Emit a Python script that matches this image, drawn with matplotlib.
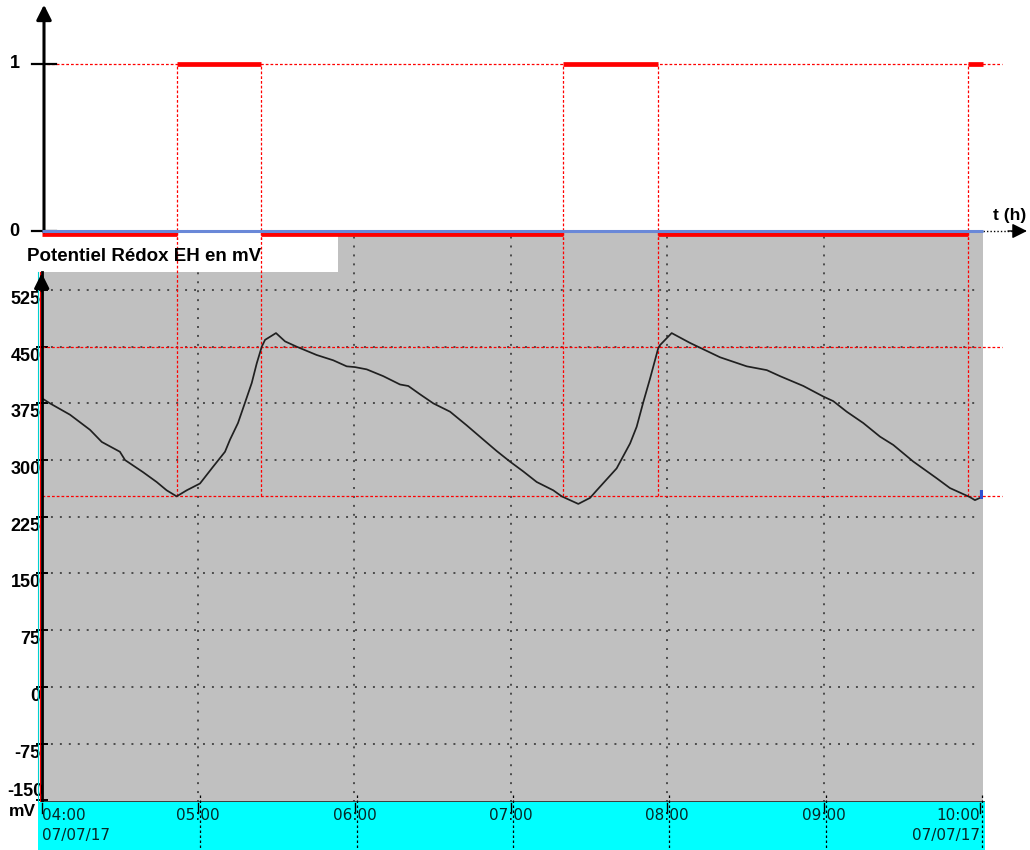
import matplotlib
matplotlib.use('Agg')
import matplotlib.pyplot as plt
from matplotlib.patches import Rectangle
import matplotlib.transforms as mtransforms

plt.rcParams['font.family'] = ['Liberation Sans', 'DejaVu Sans']

# ---------------- data ----------------
time_h = [0.000, 0.053, 0.181, 0.309, 0.384, 0.500, 0.533, 0.648, 0.735, 0.799,
          0.863, 0.927, 1.012, 1.095, 1.172, 1.204, 1.255, 1.300, 1.343, 1.375,
          1.407, 1.428, 1.498, 1.556, 1.630, 1.758, 1.864, 1.950, 2.003, 2.078,
          2.184, 2.291, 2.344, 2.419, 2.504, 2.611, 2.717, 2.824, 2.909, 2.994,
          3.079, 3.165, 3.271, 3.325, 3.431, 3.506, 3.549, 3.676, 3.762, 3.804,
          3.847, 3.890, 3.942, 3.953, 4.028, 4.145, 4.337, 4.508, 4.636, 4.721,
          4.870, 4.998, 5.061, 5.147, 5.253, 5.360, 5.445, 5.573, 5.722, 5.807,
          5.935, 5.967, 5.999]
redox_mv = [382, 375, 360, 340, 324, 311, 300, 284, 271, 260,
            252, 260, 269, 291, 311, 327, 349, 376, 402, 428,
            450, 459, 468, 457, 450, 439, 432, 424, 423, 420,
            411, 400, 398, 387, 375, 364, 346, 327, 312, 298,
            285, 271, 260, 252, 242, 250, 260, 289, 322, 344,
            377, 408, 448, 452, 468, 455, 436, 424, 419, 411,
            398, 384, 378, 364, 349, 331, 320, 298, 276, 263,
            251, 247, 250]

pump_edges = [0.0, 0.865, 1.405, 3.333, 3.942, 5.923, 6.019]
pump_state = [0, 1, 0, 1, 0, 1]

ref_high = 450
ref_low = 252

y_ticks = [-150, -75, 0, 75, 150, 225, 300, 375, 450, 525]
hour_ticks = [0, 1, 2, 3, 4, 5, 6]
hour_labels = ["04:00", "05:00", "06:00", "07:00", "08:00", "09:00", "10:00"]
date_label = "07/07/17"
title_text = "Potentiel Rédox EH en mV"

# ---------------- layout (pixel geometry) ----------------
W, H = 1030, 850
X0 = 41.7      # pixel x of 04:00
PPH = 156.4    # pixels per hour


def rect(x0, y0, x1, y1):
    return [x0 / W, 1 - y1 / H, (x1 - x0) / W, (y1 - y0) / H]


fig = plt.figure(figsize=(W / 100, H / 100), dpi=100)
fig.patch.set_facecolor('white')

RED = '#ff0000'
BLUE = '#6a88d8'
GRAY = '#c0c0c0'
CYAN = '#00ffff'
red_dash = (0, (2.2, 1.6))
grid_dot = (0, (1, 3.6))
LBL = 13

# ---------- lower panel ----------
ax = fig.add_axes(rect(X0, 232, 983, 802))
ax.set_facecolor(GRAY)
ax.set_xlim(0, (983 - X0) / PPH)
ylo, yhi = -152.3, 601.7
ax.set_ylim(ylo, yhi)
for s in ['top', 'right', 'bottom']:
    ax.spines[s].set_visible(False)
ax.spines['left'].set_bounds(ylo, 548.8)
ax.spines['left'].set_linewidth(2.0)
ax.spines['left'].set_zorder(6)
ax.set_xticks([])
ax.set_yticks(y_ticks)
ax.set_yticklabels([])
ax.tick_params(axis='y', direction='inout', length=8, width=1.4, color='black')

# grid
ax.hlines([t for t in y_ticks if t > -150], 0, 5.975, colors='#4a4a4a',
          linestyles=grid_dot, linewidth=1.4, zorder=1)
ax.vlines([h for h in hour_ticks if 0 < h < 6], ylo, yhi, colors='#4a4a4a',
          linestyles=grid_dot, linewidth=1.4, zorder=1)

# white title box
ax.add_patch(Rectangle((-0.3, 548.8), (338 - X0) / PPH + 0.3, yhi - 548.8,
                       facecolor='white', edgecolor='none', zorder=3,
                       clip_on=False))
ax.annotate(title_text, xy=(0, 548.8), xycoords='data', xytext=(-15, 15),
            textcoords='offset pixels', ha='left', va='center',
            fontsize=13.5, fontweight='bold', zorder=10)

# reference lines
ax.hlines([ref_high, ref_low], 0, (1002 - X0) / PPH, colors=RED,
          linestyles=red_dash, linewidth=0.9, zorder=4, clip_on=False)
trans_x = pump_edges[1:-1]
ax.vlines(trans_x, ref_low, yhi, colors=RED, linestyles=red_dash,
          linewidth=0.9, zorder=4)

# curve
ax.plot(time_h, redox_mv, color='#202020', linewidth=1.25, zorder=5)
ax.plot([time_h[-1] + 0.016] * 2, [redox_mv[-1] - 2, redox_mv[-1] + 10],
        color='#3050d0', linewidth=3, zorder=5, solid_capstyle='butt')

# extra thin coloured lines left of axis
axes_y = mtransforms.blended_transform_factory(ax.transAxes, ax.transData)
ax.plot([-2.2 / 941.3] * 2, [ylo, 548.8], color=RED, lw=0.8,
        transform=axes_y, clip_on=False, zorder=6)
ax.plot([-3.4 / 941.3] * 2, [ylo, 548.8], color='#00d0d0', lw=0.8,
        transform=axes_y, clip_on=False, zorder=6)

# y arrow
ax.annotate('', xy=(0, 551), xycoords=axes_y, xytext=(0, 520),
            arrowprops=dict(arrowstyle='-|>,head_length=0.9,head_width=0.45',
                            color='black', lw=2), zorder=7)

# y tick labels
for v in y_ticks:
    if v == -150:
        ax.annotate(str(v), xy=(0, v), xycoords=axes_y, xytext=(2, 0),
                    textcoords='offset pixels', ha='right', va='bottom',
                    fontsize=LBL, fontweight='bold')
    else:
        ax.annotate(str(v), xy=(0, v), xycoords=axes_y, xytext=(-1, -1),
                    textcoords='offset pixels', ha='right', va='top',
                    fontsize=LBL, fontweight='bold')

# bottom line
ax.plot([0, 1], [ylo, ylo], color='#303030', lw=2, transform=axes_y,
        clip_on=False, zorder=6)

# ---------- time axis band ----------
axc = fig.add_axes(rect(38, 802, 985, 850))
axc.set_xlim((38 - X0) / PPH, (985 - X0) / PPH)
axc.set_ylim(0, 1)
axc.axis('off')
axc.add_patch(Rectangle((0, 0), 1, 1, transform=axc.transAxes,
                        facecolor=CYAN, edgecolor='none', zorder=0))
for h, lab in zip(hour_ticks, hour_labels):
    ha = 'center'
    if h == hour_ticks[0]:
        ha = 'left'
    elif h == hour_ticks[-1]:
        ha = 'right'
    axc.text(h, 0.72, lab, ha=ha, va='center', fontsize=11,
             family='DejaVu Sans', color='#082828')
    axc.plot([h, h], [0.97, 0.78], color='black', lw=1.0)
    if h > 0:
        axc.plot([h + 2 / PPH] * 2, [1.15, 0], color='black', lw=0.9,
                 linestyle=(0, (2, 2)), clip_on=False)
axc.text(hour_ticks[0], 0.30, date_label, ha='left', va='center',
         fontsize=11, family='DejaVu Sans', color='#082828')
axc.text(hour_ticks[-1], 0.30, date_label, ha='right', va='center',
         fontsize=11, family='DejaVu Sans', color='#082828')
axc.text((22 - X0) / PPH, 0.81, 'mV', ha='center', va='center',
         fontsize=12.5, fontweight='bold', clip_on=False)

# ---------- top panel (pump state) ----------
axt = fig.add_axes(rect(X0, 0, W, 240))
axt.set_zorder(5)
axt.patch.set_alpha(0)
axt.set_xlim(0, (W - X0) / PPH)
axt.set_ylim(-(240 - 231) / 167, 231 / 167)
axt.axis('off')

axt.hlines(1, 0, (1002 - X0) / PPH, colors=RED, linestyles=red_dash,
           linewidth=0.9, zorder=2)
axt.vlines(trans_x, axt.get_ylim()[0], 1, colors=RED, linestyles=red_dash,
           linewidth=0.9, zorder=2)

down = mtransforms.offset_copy(axt.transData, fig=fig, x=0, y=-2.5,
                               units='dots')
for a, b, s in zip(pump_edges[:-1], pump_edges[1:], pump_state):
    if s == 0:
        axt.plot([a, b], [s, s], color=RED, lw=3.4, transform=down,
                 solid_capstyle='butt', zorder=3)
    else:
        axt.plot([a, b], [s, s], color=RED, lw=3.4, solid_capstyle='butt',
                 zorder=3)
axt.plot([pump_edges[0], pump_edges[-1]], [0, 0], color=BLUE, lw=2.2,
         solid_capstyle='butt', zorder=4)

axes_y_t = mtransforms.blended_transform_factory(axt.transAxes, axt.transData)
# y axis arrow
axt.annotate('', xy=(2.3 / 988.3, 1.355), xycoords=axes_y_t,
             xytext=(2.3 / 988.3, -0.005),
             arrowprops=dict(arrowstyle='-|>,head_length=0.9,head_width=0.45',
                             color='black', lw=2.2, shrinkA=0, shrinkB=0))
# x axis arrow (dotted continuation)
axt.plot([pump_edges[-1], (1012 - X0) / PPH], [0, 0], color='black', lw=1,
         linestyle=(0, (1, 1.5)))
axt.annotate('', xy=((1027 - X0) / PPH, 0), xytext=((1008 - X0) / PPH, 0),
             arrowprops=dict(arrowstyle='-|>,head_length=0.9,head_width=0.45',
                             color='black', lw=1, shrinkA=0, shrinkB=0))
axt.text((1010 - X0) / PPH, 0.09, 't (h)', ha='center', va='center',
         fontsize=12.5, fontweight='bold')

# ticks 0 and 1
for v in [0, 1]:
    axt.plot([(32 - X0) / PPH, (56 - X0) / PPH], [v, v], color='black',
             lw=1.6, clip_on=False)
    axt.annotate(str(v), xy=(0, v), xycoords=axes_y_t, xytext=(-27, 0),
                 textcoords='offset pixels', ha='center', va='center',
                 fontsize=LBL, fontweight='bold')

fig.savefig('out.png', dpi=100, facecolor='white')
